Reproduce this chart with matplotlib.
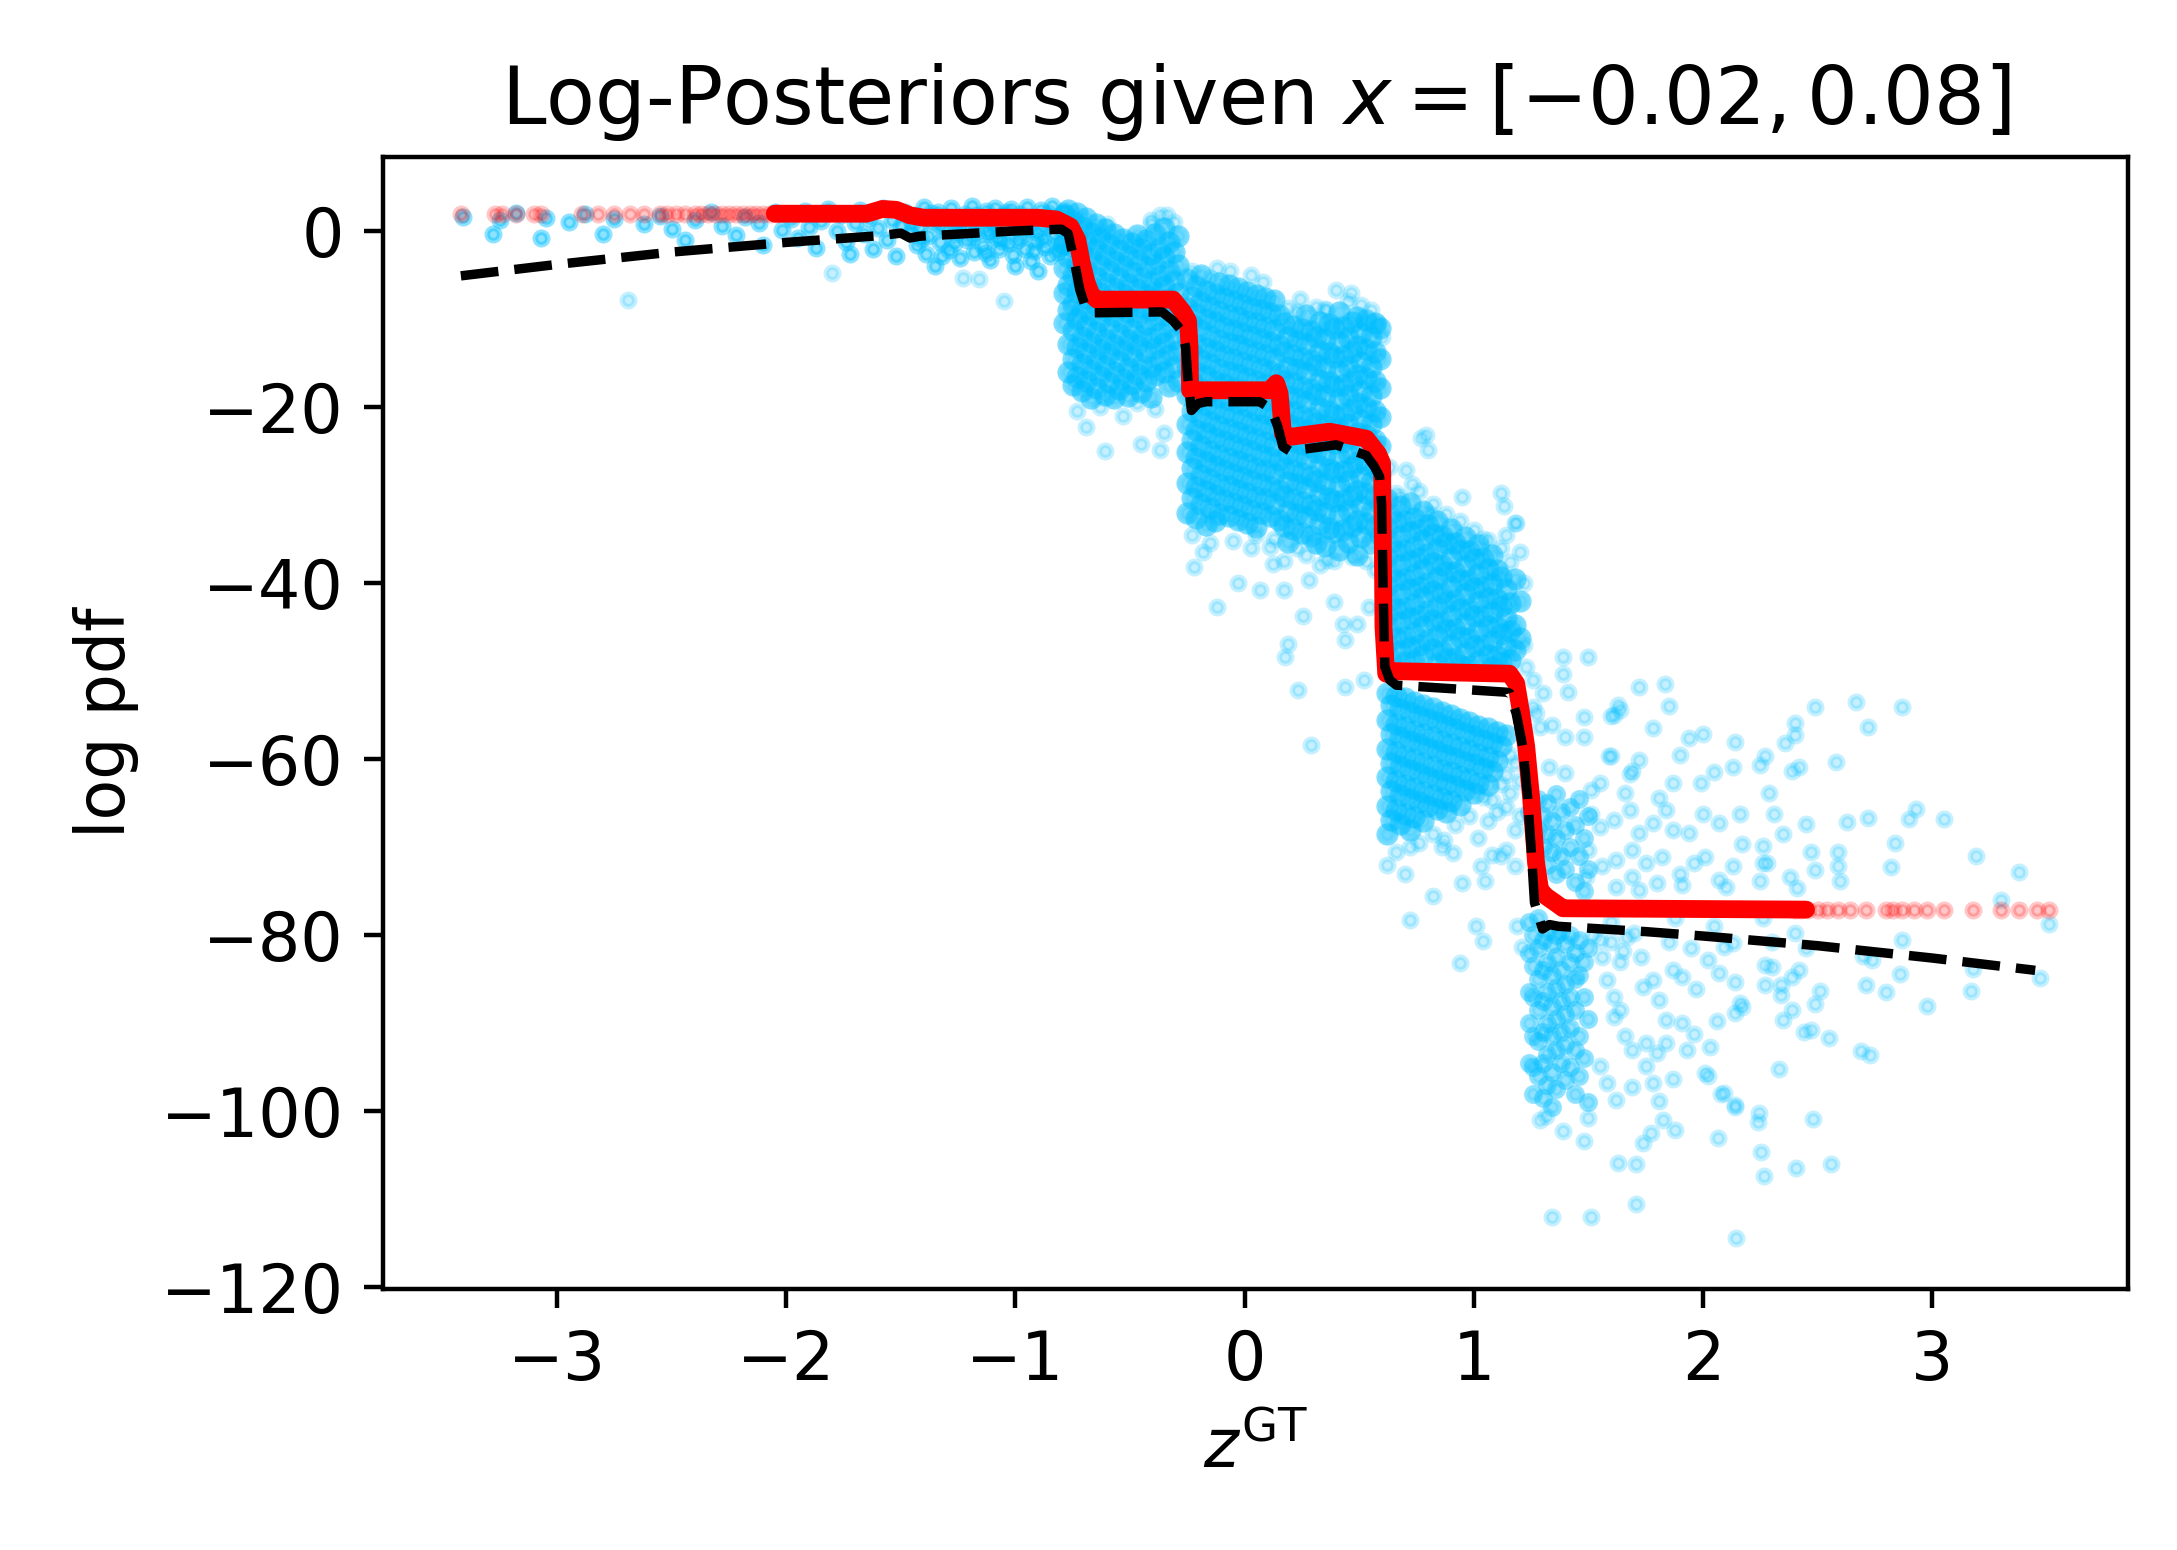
import numpy as np
import matplotlib
matplotlib.use("Agg")
import matplotlib.pyplot as plt

# ---------------- true log posterior (black dashed) ----------------
true_z = [-3.42, -3.0, -2.5, -2.0, -1.6, -1.5, -1.46, -1.42, -1.0, -0.80, -0.77, -0.741, -0.719, -0.69,
          -0.66, -0.36, -0.312, -0.276, -0.257, -0.247, -0.232, -0.203, -0.167, 0.066, 0.102, 0.124,
          0.146, 0.167, 0.197, 0.40, 0.531, 0.567, 0.589, 0.598, 0.604, 0.612, 0.633, 0.662, 1.141,
          1.156, 1.185, 1.214, 1.235, 1.25, 1.265, 1.30, 1.33, 1.37, 1.75, 2.0, 2.5, 3.0, 3.45]
true_logp = [-5.1, -3.8, -2.4, -1.3, -0.55, -0.25, -0.8, -0.6, 0.0, 0.2, -0.3, -3.7, -6.7, -9.0,
             -9.3, -9.2, -10.2, -11.3, -13.2, -17.0, -20.4, -19.6, -19.4, -19.4, -20.0, -20.8,
             -22.3, -24.5, -25.0, -24.3, -25.5, -26.8, -27.9, -31.0, -40.0, -49.5, -51.0, -51.6, -52.4,
             -52.5, -54.8, -58.6, -64.3, -70.0, -76.3, -79.3, -78.8, -79.0, -79.6, -80.1, -81.2, -82.6, -84.0]

# ---------------- model log posterior (red) ----------------
model_z = [-2.05, -1.65, -1.58, -1.52, -1.46, -1.40, -0.90, -0.82, -0.76, -0.73, -0.71, -0.69, -0.67,
           -0.645, -0.312, -0.269, -0.247, -0.240, -0.238, -0.21, 0.109, 0.138, 0.153, 0.167, 0.197,
           0.371, 0.531, 0.582, 0.600, 0.603, 0.606, 0.618, 0.647, 1.156, 1.185, 1.207, 1.229, 1.25,
           1.272, 1.29, 1.316, 1.36, 1.389, 2.45]
model_logp = [1.96, 1.96, 2.5, 2.4, 1.77, 1.5, 1.5, 1.3, 0.5, -1.0, -3.7, -5.8, -7.2,
              -7.8, -7.8, -9.2, -10.2, -13.2, -18.1, -18.1, -18.1, -17.3, -18.5, -23.0, -23.4,
              -22.8, -23.6, -25.3, -26.4, -35.0, -45.0, -50.3, -50.0, -50.3, -51.4, -54.8, -58.6, -64.3,
              -71.8, -74.9, -75.6, -76.4, -76.95, -77.1]
model_tail_z = [-3.42, -3.27, -3.24, -3.18, -3.10, -3.07, -2.89, -2.82, -2.75, -2.68, -2.62, -2.55,
                -2.52, -2.48, -2.44, -2.40, -2.37, -2.34, -2.31, -2.28, -2.25, -2.22, -2.19, -2.16,
                -2.13, -2.10, -2.07, -2.04,
                2.40, 2.43, 2.46, 2.50, 2.54, 2.59, 2.64, 2.71, 2.80, 2.83,
                2.87, 2.92, 2.98, 3.05, 3.18, 3.30, 3.38, 3.46, 3.51]
model_tail_logp = [1.9, 1.9, 1.95, 1.9, 1.95, 1.9, 1.95, 1.95, 1.9, 1.95, 1.95, 1.96,
                   1.96, 1.96, 1.96, 1.96, 1.96, 1.96, 1.96, 1.96, 1.96, 1.96, 1.96, 1.96,
                   1.96, 1.96, 1.96, 1.96,
                   -77.1, -77.1, -77.1, -77.1, -77.1, -77.1, -77.1, -77.1, -77.1, -77.1,
                   -77.1, -77.1, -77.1, -77.1, -77.1, -77.1, -77.1, -77.1, -77.1]

# ---------------- blue samples ----------------
blue_a = [(-3.41, 1.6), (-3.28, -0.3), (-3.25, 1.2), (-3.18, 2.0), (-3.07, -0.8), (-3.05, 1.5), (-2.95, 1.0),
          (-2.88, 1.9), (-2.80, -0.3), (-2.75, 1.4), (-2.62, 0.8), (-2.55, 1.7), (-2.50, 0.2),
          (-2.44, -1.0), (-2.40, 1.3), (-2.33, 2.1), (-2.28, 0.6), (-2.22, -0.5), (-2.18, 1.6), (-2.12, 0.9),
          (-2.10, -1.6), (-2.05, 2.2), (-2.02, 0.1),
          (-1.98, 1.4), (-1.95, -0.8), (-1.92, 2.3), (-1.90, 0.5), (-1.87, -1.9), (-1.85, 1.1), (-1.82, 2.5),
          (-1.78, 0.0), (-1.76, 1.8), (-1.74, -1.2), (-1.72, -2.6), (-1.70, 0.9), (-1.68, 2.4),
          (-1.66, -0.4), (-1.64, 1.5), (-1.62, -2.0), (-1.60, 0.3), (-1.58, 2.6), (-1.56, -1.0), (-1.54, 1.2),
          (-1.52, -2.9), (-1.50, 0.6), (-1.48, 2.2), (-1.46, -0.2),
          (-1.44, 1.8), (-1.43, -1.6), (-1.42, 0.4), (-1.40, 2.7), (-1.39, -2.6), (-1.38, -0.6), (-1.36, 1.1),
          (-1.35, -4.0), (-1.34, 2.2), (-1.33, -1.3), (-1.31, 0.2), (-1.30, 1.6), (-1.29, -2.2), (-1.28, 2.6),
          (-1.26, -0.3), (-1.25, 0.9), (-1.24, -3.1), (-1.22, 1.9), (-1.21, -1.0), (-1.20, 0.5),
          (-1.19, 2.8), (-1.18, -2.4), (-1.17, -0.1), (-1.15, 1.3), (-1.14, -1.7), (-1.13, 2.3),
          (-1.12, 0.0), (-1.11, -3.3), (-1.10, 1.0), (-1.09, 2.6), (-1.08, -0.8), (-1.07, -2.0), (-1.06, 1.7),
          (-1.04, 0.4), (-1.03, -1.4), (-1.02, 2.5), (-1.01, -2.7), (-1.00, -4.0), (-0.99, 0.8),
          (-0.98, 1.9), (-0.97, -0.5), (-0.96, -2.1), (-0.95, 2.7), (-0.94, 0.2), (-0.93, -3.4), (-0.92, 1.4),
          (-0.91, -1.1), (-0.90, -4.5), (-0.89, 2.4), (-0.88, 0.6), (-0.87, -1.8), (-0.86, 1.1), (-0.85, -2.8),
          (-0.84, 2.8), (-0.83, -0.4), (-0.82, 1.6), (-0.81, -1.3), (-0.80, 0.3), (-0.79, 2.3),
          (-1.41, -0.9), (-1.37, 2.0), (-1.32, -2.8), (-1.27, 1.2), (-1.19, -0.7), (-1.13, -2.5), (-1.09, 0.3),
          (-1.04, 2.1), (-0.99, -1.0), (-0.94, 1.6), (-0.90, -0.2), (-0.86, 2.0), (-0.82, -2.4),
          (-1.45, 0.9), (-1.38, 1.5), (-1.33, 0.7), (-1.27, -1.4), (-1.22, 0.2), (-1.17, 1.8), (-1.11, -0.4),
          (-1.06, -1.1), (-1.01, 1.2), (-0.96, 0.6), (-0.92, -2.3), (-0.88, -0.9), (-0.84, 0.9), (-0.80, -1.9)]

blue_b_x = [-0.79, -0.77, -0.75, -0.73, -0.71, -0.69, -0.67, -0.65, -0.63, -0.61, -0.59, -0.57, -0.55,
            -0.53, -0.51, -0.49, -0.47, -0.45, -0.43, -0.41, -0.39, -0.37, -0.35, -0.33, -0.31, -0.29]
blue_b_y = [[1.8, -1.5, -4.2, -7.0, -10.5],
            [2.4, 0.2, -3.0, -6.1, -9.0, -12.8, -16.0],
            [1.1, -1.8, -5.0, -8.3, -11.2, -14.5, -17.5],
            [2.0, -0.6, -3.8, -6.9, -10.0, -13.2, -16.6],
            [0.5, -2.4, -5.6, -9.1, -12.0, -15.1, -18.2],
            [1.5, -1.2, -4.4, -7.6, -10.8, -13.9, -17.0],
            [-0.2, -3.1, -6.3, -9.5, -12.6, -15.8, -19.0],
            [0.8, -2.0, -5.2, -8.4, -11.5, -14.6, -17.8],
            [-0.8, -3.9, -7.1, -10.2, -13.4, -16.5],
            [0.2, -2.7, -5.9, -9.0, -12.3, -15.3, -18.6],
            [-1.5, -4.6, -7.8, -11.0, -14.0, -17.2],
            [-0.3, -3.4, -6.5, -9.7, -12.9, -16.0, -19.0],
            [-2.2, -5.3, -8.6, -11.7, -14.8, -18.0],
            [-0.9, -4.0, -7.2, -10.4, -13.5, -16.8],
            [-2.8, -6.0, -9.2, -12.4, -15.6, -18.8],
            [-1.4, -4.7, -7.9, -11.1, -14.2, -17.4],
            [-0.5, -3.3, -6.6, -9.8, -13.0, -16.2],
            [-2.0, -5.4, -8.7, -11.9, -15.1, -18.3],
            [-1.0, -4.1, -7.3, -10.6, -13.8, -17.0],
            [-2.6, -5.8, -9.0, -12.2, -15.5, -18.9],
            [-0.4, -3.7, -6.9, -10.1, -13.3, -16.4],
            [-1.9, -5.1, -8.3, -11.6, -14.7],
            [0.3, -3.0, -6.2, -9.5, -12.7, -16.0],
            [-1.2, -4.5, -7.7, -10.9, -14.1, -17.6],
            [-2.4, -5.7, -9.0, -12.3, -15.4],
            [-0.6, -3.9, -7.0, -10.3, -13.6, -17.0]]

blue_c_x = [-0.25, -0.23, -0.21, -0.19, -0.17, -0.15, -0.13, -0.11, -0.09, -0.07, -0.05,
            -0.03, -0.01, 0.01, 0.03, 0.05, 0.07, 0.09, 0.11, 0.13, 0.15]
blue_c_y = [[-5.5, -8.8, -12.0, -15.4, -18.6, -21.9, -25.1, -28.6, -32.0],
            [-7.5, -10.6, -13.9, -17.2, -20.4, -23.7, -26.9, -30.3],
            [-6.3, -9.4, -12.8, -16.0, -19.3, -22.6, -25.8, -29.1, -32.6],
            [-5.0, -8.1, -11.3, -14.7, -17.9, -21.1, -24.4, -27.7, -31.0],
            [-6.8, -10.0, -13.3, -16.5, -19.8, -23.0, -26.3, -29.6, -33.4],
            [-8.6, -11.9, -15.1, -18.4, -21.7, -25.0, -28.2, -31.5],
            [-7.2, -10.4, -13.6, -17.0, -20.2, -23.5, -26.7, -30.0, -33.0],
            [-5.9, -9.1, -12.4, -15.7, -18.9, -22.2, -25.4, -28.7, -32.1],
            [-7.6, -10.9, -14.2, -17.4, -20.7, -23.9, -27.2, -30.6],
            [-6.1, -9.5, -12.7, -16.0, -19.2, -22.5, -25.8, -29.0, -32.4],
            [-8.0, -11.2, -14.5, -17.8, -21.0, -24.3, -27.6, -30.9],
            [-6.5, -9.8, -13.0, -16.3, -19.6, -22.8, -26.1, -29.4, -32.8],
            [-8.3, -11.6, -14.9, -18.1, -21.4, -24.7, -27.9, -31.3],
            [-6.9, -10.2, -13.4, -16.7, -19.9, -23.2, -26.5, -29.8, -33.2],
            [-8.7, -11.9, -15.2, -18.5, -21.8, -25.0, -28.3, -31.7],
            [-7.3, -10.5, -13.8, -17.1, -20.3, -23.6, -26.9, -30.2, -33.6],
            [-9.0, -12.3, -15.6, -18.8, -22.1, -25.4, -28.7, -32.0],
            [-7.6, -10.9, -14.1, -17.4, -20.7, -24.0, -27.2, -30.5],
            [-9.3, -12.6, -15.9, -19.2, -22.5, -25.7, -29.0, -32.4],
            [-7.9, -11.2, -14.5, -17.8, -21.0, -24.3, -27.6, -31.0],
            [-9.6, -12.9, -16.2, -19.5, -22.8, -26.0, -29.4, -32.8]]

blue_d_x = [0.17, 0.19, 0.21, 0.23, 0.25, 0.27, 0.29, 0.31, 0.33, 0.35, 0.37, 0.39, 0.41, 0.43,
            0.45, 0.47, 0.49, 0.51, 0.53, 0.55, 0.57, 0.59]
blue_d_y = [[-10.5, -13.8, -17.0, -20.3, -23.6, -26.9, -30.1, -33.5],
            [-12.1, -15.4, -18.7, -21.9, -25.2, -28.5, -31.8, -35.3],
            [-10.8, -14.1, -17.3, -20.6, -23.9, -27.2, -30.4, -33.9],
            [-12.5, -15.7, -19.0, -22.3, -25.6, -28.8, -32.2],
            [-11.1, -14.4, -17.7, -21.0, -24.2, -27.5, -30.8, -34.3],
            [-9.5, -12.8, -16.1, -19.4, -22.6, -25.9, -29.2, -32.5],
            [-11.4, -14.7, -18.0, -21.3, -24.6, -27.8, -31.1, -34.6],
            [-12.0, -15.2, -18.5, -21.8, -25.1, -28.4, -31.7, -35.4],
            [-10.3, -13.6, -16.9, -20.1, -23.4, -26.7, -30.0, -33.3],
            [-12.3, -15.6, -18.8, -22.1, -25.4, -28.7, -32.0, -35.8],
            [-10.6, -13.9, -17.2, -20.5, -23.7, -27.0, -30.3, -33.7],
            [-11.0, -14.3, -17.6, -20.9, -24.1, -27.4, -30.7, -34.2],
            [-9.2, -12.6, -15.9, -19.1, -22.4, -25.7, -29.0, -32.3, -36.2],
            [-10.9, -14.2, -17.5, -20.8, -24.0, -27.3, -30.6, -34.0],
            [-12.0, -15.3, -18.6, -21.9, -25.2, -28.4, -31.7, -35.3],
            [-10.4, -13.7, -17.0, -20.3, -23.5, -26.8, -30.1, -33.5],
            [-9.8, -13.1, -16.4, -19.6, -22.9, -26.2, -29.5, -32.9, -36.8],
            [-11.6, -14.9, -18.2, -21.5, -24.8, -28.0, -31.3, -34.8],
            [-10.1, -13.4, -16.7, -20.0, -23.2, -26.5, -29.8, -33.2],
            [-12.1, -15.4, -18.7, -21.9, -25.2, -28.5, -31.9, -35.5],
            [-10.5, -13.8, -17.1, -20.4, -23.7, -26.9, -30.2, -33.6],
            [-11.0, -14.5, -17.8, -21.1, -24.4, -27.6, -31.0, -34.5]]

blue_e1_x = [0.62, 0.64, 0.66, 0.68, 0.70, 0.72, 0.74, 0.76, 0.78, 0.80, 0.82, 0.84, 0.86, 0.88, 0.90,
             0.92, 0.94, 0.96, 0.98, 1.00, 1.02, 1.04, 1.06, 1.08, 1.10, 1.12, 1.14, 1.16, 1.18, 1.20]
blue_e1_y = [[-30.5, -33.8, -37.0, -40.3, -43.6, -46.9],
             [-32.0, -35.3, -38.6, -41.9, -45.1, -48.5],
             [-33.1, -36.4, -39.6, -42.9, -46.2],
             [-31.3, -34.6, -37.9, -41.2, -44.4, -47.7],
             [-33.0, -36.2, -39.5, -42.8, -46.1, -49.0],
             [-30.9, -34.2, -37.5, -40.7, -44.0, -47.3],
             [-32.6, -35.9, -39.1, -42.4, -45.7, -48.8],
             [-34.0, -37.2, -40.5, -43.8, -47.0],
             [-31.8, -35.1, -38.4, -41.6, -44.9, -48.2],
             [-33.4, -36.7, -40.0, -43.2, -46.5],
             [-34.4, -37.7, -40.9, -44.2, -47.5],
             [-32.9, -36.1, -39.4, -42.7, -46.0, -49.2],
             [-34.6, -37.9, -41.1, -44.4, -47.7],
             [-35.5, -38.8, -42.1, -45.3, -48.6],
             [-33.9, -37.2, -40.5, -43.7, -47.0],
             [-35.4, -38.7, -41.9, -45.2, -48.5],
             [-36.3, -39.6, -42.9, -46.1, -49.3],
             [-34.8, -38.1, -41.3, -44.6, -47.9],
             [-36.4, -39.7, -43.0, -46.3, -49.4],
             [-37.3, -40.6, -43.8, -47.1],
             [-35.7, -39.0, -42.2, -45.5, -48.8],
             [-37.2, -40.5, -43.8, -47.0],
             [-38.4, -41.7, -44.9, -48.2],
             [-36.8, -40.1, -43.3, -46.6, -49.5],
             [-38.5, -41.8, -45.0, -48.3],
             [-39.3, -42.6, -45.8, -49.0],
             [-40.7, -44.0, -47.2],
             [-42.3, -45.5, -48.7],
             [-39.5, -44.8, -47.6],
             [-42.0, -46.3]]

blue_e2_x = [0.62, 0.64, 0.66, 0.68, 0.70, 0.72, 0.74, 0.76, 0.78, 0.80, 0.82, 0.84, 0.86, 0.88, 0.90,
             0.92, 0.94, 0.96, 0.98, 1.00, 1.02, 1.04, 1.06, 1.08, 1.10, 1.12, 1.14]
blue_e2_y = [[-52.5, -55.6, -58.8, -62.0, -65.3, -68.5],
             [-53.9, -57.1, -60.4, -63.6, -66.9],
             [-52.8, -56.0, -59.2, -62.5, -65.8],
             [-54.3, -57.5, -60.8, -64.1, -67.4],
             [-53.1, -56.4, -59.6, -62.9, -66.2],
             [-54.7, -57.9, -61.2, -64.5, -68.0],
             [-53.5, -56.8, -60.0, -63.3, -66.6],
             [-55.1, -58.3, -61.6, -64.9],
             [-53.8, -57.1, -60.4, -63.7, -67.0],
             [-55.5, -58.7, -62.0, -65.3],
             [-54.2, -57.5, -60.8, -64.1],
             [-55.8, -59.1, -62.4, -65.7],
             [-54.6, -57.9, -61.2, -64.4],
             [-56.2, -59.5, -62.8, -66.0],
             [-55.0, -58.3, -61.5, -64.8],
             [-56.6, -59.9, -63.1],
             [-55.4, -58.6, -61.9, -65.2],
             [-57.0, -60.3, -63.5],
             [-55.8, -59.0, -62.3],
             [-57.4, -60.6, -63.9],
             [-56.2, -59.4, -62.7],
             [-57.8, -61.0],
             [-56.5, -59.8, -63.0],
             [-58.2, -61.4],
             [-56.9, -60.2],
             [-58.5],
             [-57.3]]

blue_f1_x = [1.24, 1.26, 1.28, 1.30, 1.32, 1.34, 1.36, 1.38, 1.40, 1.42, 1.44, 1.46, 1.48, 1.50]
blue_f1_y = [[-66.0, -78.5, -82.0, -86.5, -90.0, -94.5],
             [-80.0, -83.5, -87.0, -91.5, -95.0, -98.0],
             [-64.5, -68.0, -78.0, -81.5, -85.0, -88.5, -92.0, -96.0],
             [-66.5, -70.0, -80.5, -84.0, -87.5, -91.0, -94.5, -98.5],
             [-65.0, -68.5, -72.0, -79.5, -83.0, -86.5, -90.0, -93.5, -97.0],
             [-67.0, -70.5, -81.0, -84.5, -88.0, -91.5, -95.5, -99.5],
             [-64.0, -69.0, -73.0, -80.0, -82.5, -86.0, -89.5, -93.0, -97.5],
             [-66.0, -71.0, -79.5, -84.0, -87.5, -91.0, -94.5],
             [-68.0, -72.5, -81.0, -85.5, -89.0, -92.5, -96.5],
             [-65.5, -70.0, -80.0, -83.0, -87.0, -90.5, -95.0],
             [-67.5, -74.0, -82.0, -85.0, -88.5, -93.0, -98.0],
             [-64.5, -71.0, -80.5, -84.5, -91.5, -96.0],
             [-69.0, -75.0, -83.0, -87.0, -94.0],
             [-66.5, -72.5, -81.5, -89.5, -99.0]]

blue_sparse = [
    # left and step A/B outliers
    (-2.69, -7.9), (-1.80, -4.8), (-1.23, -5.3), (-1.16, -5.5), (-1.05, -8.0),
    (-0.73, -20.5), (-0.69, -22.3), (-0.63, -20.0), (-0.61, -25.0), (-0.53, -21.0), (-0.45, -24.2),
    (-0.39, -20.2), (-0.37, -24.9), (-0.35, -23.0), (-0.47, -19.6), (-0.41, 1.2), (-0.37, 1.8), (-0.31, 1.0),
    # around steps C/D/E
    (-0.12, -42.7), (-0.22, -38.2), (-0.03, -40.0), (-0.18, -36.5), (0.066, -40.8), (0.124, -37.8),
    (0.17, -40.8), (0.255, -43.8), (0.19, -46.9), (0.175, -48.4), (0.43, -44.6), (0.49, -44.6),
    (0.39, -42.1), (0.44, -46.5), (0.28, -39.7), (0.36, -37.4), (0.545, -42.7), (0.233, -52.2),
    (0.29, -58.4), (0.44, -51.8), (0.52, -51.0), (0.05, -34.5), (0.11, -35.9),
    (-0.23, -34.5), (-0.15, -35.5), (-0.05, -35.2), (0.03, -36.0), (0.13, -35.0), (-0.23, -4.6),
    (-0.15, -5.4), (0.17, -37.5), (0.19, -8.8), (0.23, -9.2), (0.23, -36.0), (0.27, -36.8), (0.31, -8.6),
    (0.33, -38.0), (0.35, -8.9), (0.39, -37.5), (0.45, -8.0), (0.47, -37.0), (0.51, -8.4), (0.53, -37.5),
    (0.55, -9.0), (0.57, -38.5),
    (-0.065, -4.5), (0.08, -5.8), (0.03, -5.0), (-0.12, -4.2), (-0.34, 1.8), (-0.41, 0.8), (-0.60, 0.8),
    (0.40, -6.7), (0.465, -7.1), (0.24, -7.7), (0.356, -9.0), (0.516, -10.3), (0.58, -10.5), (0.60, -12.0),
    (0.705, -27.2), (0.79, -23.2), (0.80, -24.9), (0.81, -32.1), (0.68, -30.2), (0.63, -26.8),
    (0.77, -23.5), (0.73, -28.7), (1.12, -29.8), (0.95, -30.2), (1.13, -31.3), (1.185, -33.2),
    (0.66, -29.8), (0.76, -29.5), (0.82, -31.0), (0.88, -32.2), (0.94, -33.0), (1.00, -34.0), (1.04, -35.0),
    (1.06, -35.1), (1.12, -36.0), (1.14, -34.5), (1.16, -37.6), (1.18, -33.2), (1.20, -36.5), (1.22, -40.0),
    (1.22, -47.0),
    (0.62, -72.0), (0.66, -70.5), (0.70, -73.0), (0.76, -69.5), (0.82, -68.5), (0.86, -70.0), (0.92, -67.5),
    (0.98, -66.5), (1.02, -69.0), (1.06, -67.0), (1.10, -66.0), (1.12, -62.8), (1.12, -71.0), (1.14, -61.8),
    (1.14, -65.5), (1.16, -59.5), (1.16, -63.9), (1.18, -60.5), (1.18, -68.0), (1.20, -62.5), (1.20, -66.5),
    (1.04, -64.3), (1.08, -64.7),
    (0.72, -78.3), (0.94, -83.2), (1.04, -80.7),
    (0.82, -75.6), (0.95, -74.1), (1.05, -73.9), (1.01, -79.0), (1.03, -72.2), (1.08, -70.9),
    (1.14, -70.3), (1.18, -72.2), (1.19, -79.0), (1.21, -81.3), (0.91, -70.7), (0.72, -70.0), (0.87, -69.2),
    # right region, upper
    (1.39, -48.4), (1.50, -48.4), (1.39, -50.3), (1.41, -52.4), (1.72, -51.8), (1.64, -54.4), (1.61, -55.0),
    (1.29, -56.3), (1.34, -56.1), (1.40, -57.5), (1.48, -57.5), (1.59, -59.7), (1.72, -60.1), (1.69, -61.3),
    (1.33, -60.9), (1.40, -61.6), (1.51, -63.5), (1.66, -63.9), (1.27, -54.8), (1.30, -52.5), (1.26, -51.0),
    (1.23, -49.5), (1.26, -54.1), (1.48, -55.2),
    (1.835, -51.5), (2.00, -57.1), (1.94, -57.6), (2.14, -58.1), (2.13, -60.9), (1.99, -62.7), (1.60, -55.1),
    (1.63, -53.8), (1.60, -59.6), (1.68, -61.7), (1.55, -62.7), (1.87, -62.7), (1.81, -64.4), (1.78, -56.5),
    (1.90, -59.5), (2.05, -61.5), (1.85, -54.0),
    # right region, middle
    (1.51, -66.2), (1.55, -67.7), (1.61, -66.9), (1.68, -65.8), (1.72, -68.4), (1.78, -67.3), (1.84, -65.8),
    (1.87, -68.1), (1.94, -68.4), (2.00, -66.2), (2.07, -67.3), (2.16, -66.2), (2.17, -69.6), (1.50, -70.3),
    (1.56, -72.2), (1.62, -71.5), (1.69, -70.3), (1.75, -71.8), (1.82, -71.1), (1.90, -73.0), (1.96, -71.8),
    (2.01, -71.1), (2.07, -73.7), (2.13, -72.2), (1.62, -74.5), (1.72, -74.9), (1.80, -74.1), (1.91, -74.3),
    (2.10, -74.5), (1.69, -73.4), (1.49, -73.4),
    (1.55, -80.5), (1.65, -81.8), (1.73, -82.5), (1.85, -80.8), (1.95, -81.5), (2.02, -82.8), (1.60, -78.5),
    (1.88, -78.0), (2.05, -79.0), (1.70, -79.8), (1.52, -80.0), (1.56, -82.5), (1.60, -80.8), (1.64, -83.0),
    (1.67, -80.2),
    (2.13, -80.9), (2.09, -81.3), (1.87, -84.0), (1.91, -84.7), (1.97, -86.1), (2.07, -84.3), (2.14, -85.3),
    (2.17, -88.2), (2.16, -87.7), (1.58, -85.1), (1.61, -87.0), (1.64, -88.5), (1.74, -85.9), (1.78, -85.1),
    (1.81, -87.4), (1.84, -89.6), (1.91, -90.0), (1.96, -91.2), (2.06, -89.8), (2.14, -88.9), (1.61, -89.3),
    (1.66, -91.5), (1.75, -92.3), (1.80, -93.4), (1.69, -93.0), (1.84, -92.3), (1.93, -93.0), (2.03, -92.7),
    (1.55, -94.9), (1.58, -96.8), (1.69, -97.2), (1.75, -94.9), (1.78, -96.8), (1.87, -96.4), (2.01, -95.7),
    (2.09, -97.9), (2.14, -99.3), (1.62, -98.7), (1.81, -98.9),
    # right region, bottom
    (1.287, -101.0), (1.316, -100.6), (1.389, -102.3), (1.498, -100.8), (1.483, -103.4), (1.825, -101.0),
    (1.774, -102.5), (1.737, -103.6), (1.876, -102.1), (2.065, -103.1), (2.254, -104.6), (2.268, -107.4),
    (2.406, -106.5), (2.559, -106.0), (1.628, -105.9), (1.708, -106.0), (1.708, -110.5), (1.512, -112.0),
    (2.144, -114.4), (2.479, -100.9), (2.246, -100.2), (2.239, -101.2), (2.14, -99.5), (2.08, -98.0),
    (2.02, -96.0), (1.34, -112.0),
    # far right
    (2.49, -54.1), (2.67, -53.5), (2.87, -54.1), (2.40, -55.9), (2.40, -57.3), (2.36, -58.2), (2.72, -56.3),
    (2.27, -59.7), (2.25, -60.7), (2.42, -60.9), (2.39, -61.4), (2.58, -60.3), (2.29, -63.8), (2.31, -66.2),
    (2.45, -67.4), (2.35, -68.5), (2.63, -67.1), (2.72, -66.7), (2.90, -66.8), (2.93, -65.7), (3.05, -66.8),
    (2.84, -69.5), (2.26, -69.9), (2.47, -70.5), (2.59, -70.5), (2.26, -71.8), (2.28, -71.8), (2.49, -72.6),
    (2.59, -72.1), (2.82, -72.3), (2.38, -73.4), (2.25, -73.9), (2.41, -74.7), (2.60, -73.9), (3.19, -71.0),
    (3.38, -72.8), (3.30, -76.0), (3.51, -78.7), (2.26, -78.1), (2.40, -79.8), (2.30, -80.8), (2.45, -81.5),
    (2.87, -80.6), (2.70, -82.4), (2.74, -82.8), (2.27, -83.4), (2.30, -83.6), (2.42, -84.0), (2.39, -84.7),
    (3.18, -83.8), (2.86, -84.4), (3.47, -84.9), (2.27, -85.7), (2.34, -85.7), (2.71, -85.7), (2.51, -86.4),
    (2.34, -86.8), (2.80, -86.5), (3.17, -86.3), (2.49, -87.8), (2.98, -88.0), (2.39, -88.5), (2.35, -89.6),
    (2.44, -91.0), (2.47, -90.8), (2.55, -91.7), (2.69, -93.2), (2.73, -93.6), (2.33, -95.2)]

# ---------------- figure ----------------
plt.rcParams['font.size'] = 12
fig = plt.figure(figsize=(2177 / 400, 1550 / 400), dpi=400)
ax = fig.add_axes([0.1759, 0.1684, 0.8016, 0.7303])

blue = '#00BFFF'


def expand(xs, ys):
    px, py = [], []
    for x, col in zip(xs, ys):
        for y in col:
            px.append(x)
            py.append(y)
    return px, py


core_x, core_y = [], []
for xs, ys in [(blue_b_x, blue_b_y), (blue_c_x, blue_c_y), (blue_d_x, blue_d_y),
               (blue_e1_x, blue_e1_y), (blue_e2_x, blue_e2_y)]:
    px, py = expand(xs, ys)
    core_x += px
    core_y += py

f1x, f1y = expand(blue_f1_x, blue_f1_y)
a_x = [p[0] for p in blue_a]
a_y = [p[1] for p in blue_a]
sp_x = [p[0] for p in blue_sparse]
sp_y = [p[1] for p in blue_sparse]

ax.scatter(sp_x, sp_y, s=5, color=blue, alpha=0.22, linewidths=1.0, zorder=2)
ax.scatter(f1x, f1y, s=12, color=blue, alpha=0.3, linewidths=0, zorder=2)
ax.scatter(f1x, f1y, s=5, color=blue, alpha=0.2, linewidths=1.0, zorder=2)
ax.scatter(a_x, a_y, s=5, color=blue, alpha=0.45, linewidths=1.0, zorder=2)
ax.scatter(core_x, core_y, s=16, color=blue, alpha=0.5, linewidths=0, zorder=2)
ax.scatter(core_x, core_y, s=5, color=blue, alpha=0.15, linewidths=1.0, zorder=2)

ax.scatter(model_tail_z, model_tail_logp, s=5, color='red', alpha=0.22, linewidths=1.0, zorder=3)
ax.plot(model_z, model_logp, color='red', lw=3.2, solid_capstyle='round', solid_joinstyle='round', zorder=3)
ax.plot(true_z, true_logp, color='black', lw=1.7, ls=(0, (4.0, 1.7)), zorder=4)

ax.set_xlim(-3.76, 3.855)
ax.set_ylim(-120.2, 8.4)
ax.set_xticks([-3, -2, -1, 0, 1, 2, 3])
ax.set_yticks([0, -20, -40, -60, -80, -100, -120])
ax.set_title(r'Log-Posteriors given $x = [-0.02, 0.08]$', fontsize=14.4)
ax.set_xlabel(r'$z^{\mathrm{GT}}$')
ax.set_ylabel('log pdf')

fig.savefig('out.png', dpi=400)
